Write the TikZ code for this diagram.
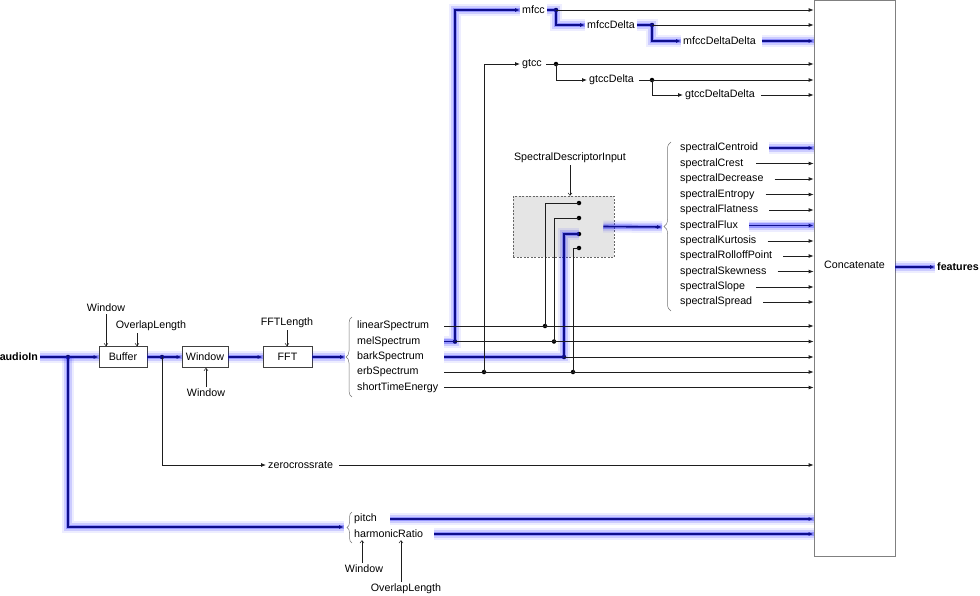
\documentclass[tikz,border=0pt]{standalone}
\usepackage{fontspec}
\setmainfont{Liberation Sans}
\usetikzlibrary{arrows.meta, positioning, calc, decorations.pathreplacing}
\definecolor{hlblue}{RGB}{20, 20, 255}
\definecolor{hlcore}{RGB}{15, 15, 140}
\definecolor{wirec}{RGB}{30, 30, 30}
\newcommand{\dfont}{\fontsize{10.7}{12.8}\selectfont}

\begin{document}
\begin{tikzpicture}[x=1pt, y=-1pt,
  every node/.style={font=\dfont, inner sep=2pt},
  blk/.style={draw=black!75, fill=white, minimum height=21pt, line width=0.7pt},
  wire/.style={draw=wirec, line width=0.8pt, -{Latex[length=5pt, width=4pt]}},
  plain/.style={draw=wirec, line width=0.8pt},
  parm/.style={draw=wirec, line width=0.5pt, -{Straight Barb[length=2.5pt, width=4pt]}},
  hl/.style={preaction={draw=hlblue, opacity=0.08, line width=12pt, arrows=-},
             preaction={draw=hlblue, opacity=0.15, line width=8pt, arrows=-},
             preaction={draw=hlblue, opacity=0.3, line width=4.5pt, arrows=-},
             draw=hlcore, line width=1.6pt},
  jdot/.style={circle, fill=black, inner sep=0pt, minimum size=4.5pt},
  lst/.style={anchor=west},
  brc/.style={decorate, decoration={brace, amplitude=#1}, draw=black!55, line width=0.5pt},
]
  \useasboundingbox (0,0) rectangle (980,595);

  % front end
  \node[anchor=east, font=\dfont\bfseries] (ain) at (40,357) {audioIn};
  \node[blk, minimum width=48pt] (buffer) at (123,357) {Buffer};
  \node[blk, minimum width=46pt] (win) at (205,357) {Window};
  \node[blk, minimum width=49pt] (fft) at (287.5,357) {FFT};
  \node (bufwin) at (106,308) {Window};
  \node (bufovl) at (151,326) {OverlapLength};
  \node (winwin) at (206,393) {Window};
  \node (fftlen) at (287,323) {FFTLength};

  % spectrum list
  \coordinate (fftbr) at (345,357);
  \node[lst, text width=85pt] (lin) at (355,326) {linearSpectrum};
  \node[lst, text width=85pt] (mel) at (355,341.5) {melSpectrum};
  \node[lst, text width=85pt] (bark) at (355,357) {barkSpectrum};
  \node[lst, text width=85pt] (erb) at (355,372) {erbSpectrum};
  \node[lst, text width=85pt] (ste) at (355,387.5) {shortTimeEnergy};

  % concatenation
  \node[draw=black!50, line width=0.8pt, minimum width=81pt, minimum height=555.5pt] (concat) at (854.5,278.25) {};
  \node (conclbl) at ([yshift=13pt]concat.center) {Concatenate};
  \node[anchor=west, font=\dfont\bfseries] (feat) at (935,267) {features};

  % cepstral coefficients
  \node[lst] (mfcc) at (520,10) {mfcc};
  \node[lst] (mfccd) at (585,25) {mfccDelta};
  \node[lst] (mfccdd) at (681,41) {mfccDeltaDelta};
  \node[lst] (gtcc) at (520,64) {gtcc};
  \node[lst] (gtccd) at (587,80) {gtccDelta};
  \node[lst] (gtccdd) at (683,95) {gtccDeltaDelta};

  % spectral descriptors
  \node[draw=black!60, dash pattern=on 2pt off 1.5pt, fill=black!10, line width=0.5pt,
        minimum width=101pt, minimum height=61pt] (sdi) at (563.5,226.5) {};
  \node (sdilbl) at (570,158) {SpectralDescriptorInput};
  \coordinate (sdbr) at (662,227);
  \node[lst] (scen) at (678,148) {spectralCentroid};
  \node[lst] (scre) at (678,163.5) {spectralCrest};
  \node[lst] (sdec) at (678,179) {spectralDecrease};
  \node[lst] (sent) at (678,194.5) {spectralEntropy};
  \node[lst] (sfla) at (678,210) {spectralFlatness};
  \node[lst] (sflu) at (678,225.5) {spectralFlux};
  \node[lst] (skur) at (678,241) {spectralKurtosis};
  \node[lst] (srol) at (678,256) {spectralRolloffPoint};
  \node[lst] (sske) at (678,271.5) {spectralSkewness};
  \node[lst] (sslo) at (678,287) {spectralSlope};
  \node[lst] (sspr) at (678,302) {spectralSpread};

  % time-domain features
  \node[lst] (zcr) at (266,465) {zerocrossrate};
  \coordinate (pbr) at (344,527);
  \node[lst] (pitch) at (352,519) {pitch};
  \node[lst] (hr) at (352,534) {harmonicRatio};
  \node (pwin) at (364,569) {Window};
  \node (povl) at (406,589) {OverlapLength};

  % junctions
  \node[jdot] (j1) at (68,357) {};
  \node[jdot] (j2) at (162,357) {};
  \node[jdot] (jmel) at (455,341.5) {};
  \node[jdot] (jerb) at (484,372) {};
  \node[jdot] (jlin) at (545,326) {};
  \node[jdot] (jmel2) at (554,341.5) {};
  \node[jdot] (jbark) at (564,357) {};
  \node[jdot] (jerb2) at (573,372) {};
  \node[jdot] (s1) at (579,203) {};
  \node[jdot] (s2) at (579,218) {};
  \node[jdot] (s3) at (579,234) {};
  \node[jdot] (s4) at (579,248) {};
  \node[jdot] (dmf) at (556,10) {};
  \node[jdot] (dmfd) at (652,25) {};
  \node[jdot] (dgt) at (556,64) {};
  \node[jdot] (dgtd) at (652,80) {};

  % braces
  \draw[brc=6pt] (352,397) -- (352,317);
  \draw[brc=7pt] (671,311) -- (671,142);
  \draw[brc=5pt] (352,543) -- (352,512);

  % highlighted path
  \draw[wire, hl] (ain.east) -- (buffer.west);
  \draw[wire, hl] (buffer.east) -- (win.west);
  \draw[wire, hl] (win.east) -- (fft.west);
  \draw[wire, hl] (fft.east) -- (fftbr);
  \draw[wire, hl] (j1.center) |- (pbr);
  \draw[wire, hl] (mel.east) -- (jmel.center) |- (mfcc.west);
  \draw[wire, hl] (mfcc.east) -- (dmf.center) |- (mfccd.west);
  \draw[wire, hl] (mfccd.east) -- (dmfd.center) |- (mfccdd.west);
  \draw[wire, hl] ([xshift=4pt]mfccdd.east) -- (mfccdd.east -| concat.west);
  \draw[plain, hl] (bark.east) -- (jbark.center) |- (s3.center);
  \draw[wire, hl] ([xshift=-11pt]sdi.east) -- (sdbr);
  \draw[wire, hl] ([xshift=9pt]scen.east) -- (scen.east -| concat.west);
  \draw[wire, hl] ([xshift=9pt]sflu.east) -- (sflu.east -| concat.west);
  \draw[wire, hl] ([xshift=11pt]pitch.east) -- (pitch.east -| concat.west);
  \draw[wire, hl] ([xshift=9pt]hr.east) -- (hr.east -| concat.west);
  \draw[wire, hl] (concat.east |- feat.west) -- (feat.west);

  % parameters
  \draw[parm] (bufwin.south) -- (bufwin.south |- buffer.north);
  \draw[parm] ([xshift=-14pt]bufovl.south) -- ([xshift=14pt]buffer.north);
  \draw[parm] (winwin.north) -- (winwin.north |- win.south);
  \draw[parm] (fftlen.south) -- (fftlen.south |- fft.north);
  \draw[parm] (sdilbl.south) -- (sdilbl.south |- sdi.north);
  \draw[parm] ([xshift=-2pt]pwin.north) -- ([xshift=-2pt]pwin.north |- hr.south);
  \draw[parm] ([xshift=-5pt]povl.north) -- ([xshift=-5pt]povl.north |- hr.south);

  % plain wires
  \draw[wire] (lin.east) -- (lin.east -| concat.west);
  \draw[wire] (jmel.center) -- (jmel.center -| concat.west);
  \draw[wire] (jbark.center) -- (jbark.center -| concat.west);
  \draw[wire] (erb.east) -- (erb.east -| concat.west);
  \draw[wire] (ste.east) -- (ste.east -| concat.west);
  \draw[wire] (jerb.center) |- (gtcc.west);
  \draw[wire] (dmf.center) -- (dmf.center -| concat.west);
  \draw[wire] (dmfd.center) -- (dmfd.center -| concat.west);
  \draw[wire] ([xshift=2pt]gtcc.east) -- (gtcc.east -| concat.west);
  \draw[wire] (dgt.center) |- (gtccd.west);
  \draw[wire] ([xshift=3pt]gtccd.east) -- (gtccd.east -| concat.west);
  \draw[wire] (dgtd.center) |- (gtccdd.west);
  \draw[wire] ([xshift=4pt]gtccdd.east) -- (gtccdd.east -| concat.west);
  \draw[plain] (s1.center) -| (jlin.center);
  \draw[plain] (s2.center) -| (jmel2.center);
  \draw[plain] (s4.center) -| (jerb2.center);
  \draw[wire] ([xshift=11pt]scre.east) -- (scre.east -| concat.west);
  \draw[wire] ([xshift=9pt]sdec.east) -- (sdec.east -| concat.west);
  \draw[wire] ([xshift=9pt]sent.east) -- (sent.east -| concat.west);
  \draw[wire] ([xshift=9pt]sfla.east) -- (sfla.east -| concat.west);
  \draw[wire] ([xshift=9pt]skur.east) -- (skur.east -| concat.west);
  \draw[wire] ([xshift=9pt]srol.east) -- (srol.east -| concat.west);
  \draw[wire] ([xshift=9pt]sske.east) -- (sske.east -| concat.west);
  \draw[wire] ([xshift=9pt]sslo.east) -- (sslo.east -| concat.west);
  \draw[wire] ([xshift=9pt]sspr.east) -- (sspr.east -| concat.west);
  \draw[wire] (j2.center) |- (zcr.west);
  \draw[wire] ([xshift=4pt]zcr.east) -- (zcr.east -| concat.west);
\end{tikzpicture}
\end{document}
